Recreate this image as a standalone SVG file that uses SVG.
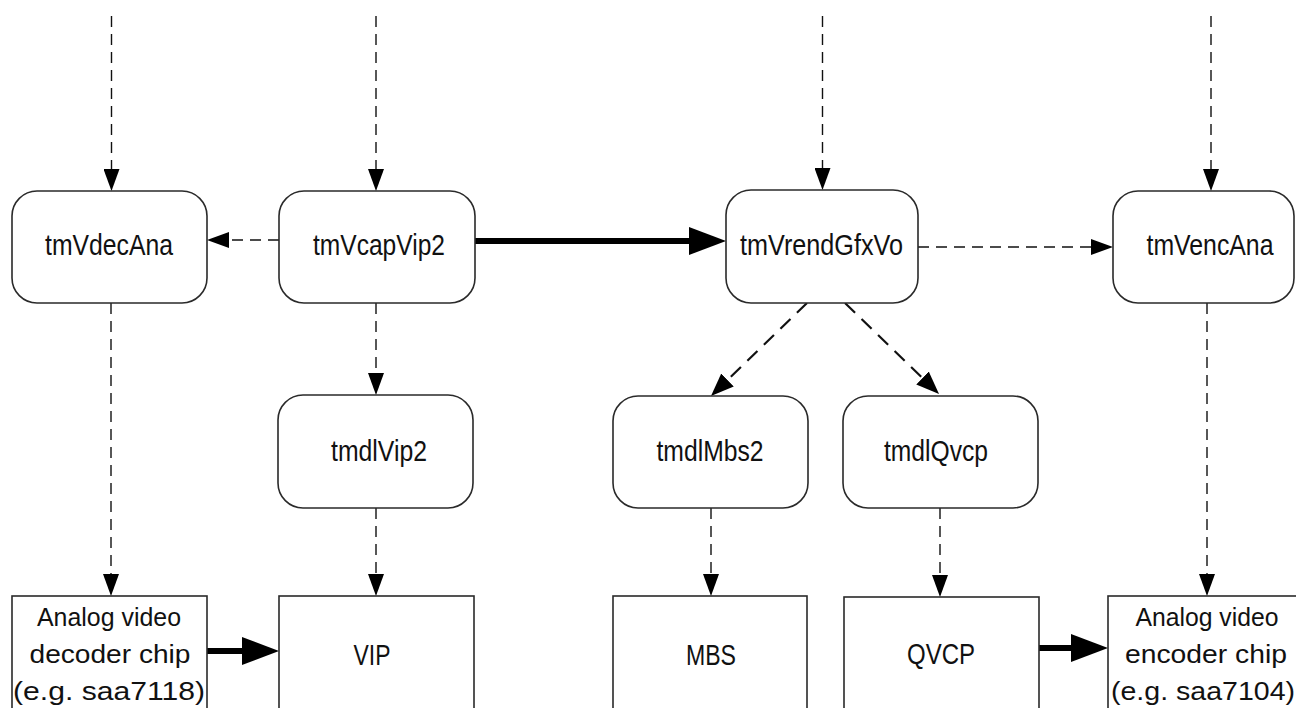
<svg xmlns="http://www.w3.org/2000/svg" width="1296" height="708" viewBox="0 0 1296 708">
<style>
  .node rect { fill: #ffffff; stroke: #2a2a2a; stroke-width: 1.6; }
  .lbl { font-family: "Liberation Sans", Arial, sans-serif; font-size: 30px; fill: #111; text-anchor: middle; }
  .sm { font-family: "Liberation Sans", Arial, sans-serif; font-size: 26px; fill: #111; text-anchor: middle; }
  .dash { stroke: #111; stroke-width: 1.4; stroke-dasharray: 11 7; fill: none; }
  .dashd { stroke: #111; stroke-width: 2.2; stroke-dasharray: 14 9; fill: none; }
  .thick { stroke: #000; stroke-width: 6; fill: none; }
</style>
<defs>
  <marker id="ah" markerUnits="userSpaceOnUse" markerWidth="22" markerHeight="16" refX="0" refY="8" orient="auto">
    <path d="M0,0 L22,8 L0,16 z" fill="#000"/>
  </marker>
  <marker id="ahd" markerUnits="userSpaceOnUse" markerWidth="23" markerHeight="18" refX="0" refY="9" orient="auto">
    <path d="M0,0 L23,9 L0,18 z" fill="#000"/>
  </marker>
  <marker id="aht" markerUnits="userSpaceOnUse" markerWidth="37" markerHeight="28" refX="0" refY="14" orient="auto">
    <path d="M0,0 L37,14 L0,28 z" fill="#000"/>
  </marker>
</defs>

<g id="connectors">
  <!-- incoming from top -->
  <line class="dash" x1="111.5" y1="16" x2="111.5" y2="169" marker-end="url(#ah)"/>
  <line class="dash" x1="376" y1="16" x2="376" y2="169" marker-end="url(#ah)"/>
  <line class="dash" x1="822.5" y1="16" x2="822.5" y2="168" marker-end="url(#ah)"/>
  <line class="dash" x1="1211" y1="16" x2="1211" y2="169" marker-end="url(#ah)"/>
  <!-- row 1 horizontals -->
  <line class="dash" x1="279" y1="240" x2="229" y2="240" marker-end="url(#ah)"/>
  <line class="thick" x1="475" y1="241" x2="689" y2="241" marker-end="url(#aht)"/>
  <line class="dash" x1="918" y1="247" x2="1091" y2="247" marker-end="url(#ah)"/>
  <!-- downward -->
  <line class="dash" x1="111" y1="303" x2="111" y2="574" marker-end="url(#ah)"/>
  <line class="dash" x1="376" y1="303" x2="376" y2="373" marker-end="url(#ah)"/>
  <line class="dash" x1="376" y1="508" x2="376" y2="574" marker-end="url(#ah)"/>
  <line class="dashd" x1="807" y1="303" x2="727.5" y2="380" marker-end="url(#ahd)"/>
  <line class="dashd" x1="845" y1="303" x2="922.5" y2="378" marker-end="url(#ahd)"/>
  <line class="dash" x1="711" y1="508" x2="711" y2="574" marker-end="url(#ah)"/>
  <line class="dash" x1="940" y1="508" x2="940" y2="575" marker-end="url(#ah)"/>
  <line class="dash" x1="1207" y1="303" x2="1207" y2="574" marker-end="url(#ah)"/>
  <!-- bottom thick -->
  <line class="thick" x1="207" y1="651" x2="242" y2="651" marker-end="url(#aht)"/>
  <line class="thick" x1="1039" y1="648" x2="1071" y2="648" marker-end="url(#aht)"/>
</g>

<g id="tmVdecAna" class="node">
  <rect x="12" y="191" width="195" height="112" rx="25" ry="25"/>
  <text class="lbl" x="109" y="255" textLength="128" lengthAdjust="spacingAndGlyphs">tmVdecAna</text>
</g>
<g id="tmVcapVip2" class="node">
  <rect x="279" y="191" width="196" height="112" rx="25" ry="25"/>
  <text class="lbl" x="379" y="255" textLength="132" lengthAdjust="spacingAndGlyphs">tmVcapVip2</text>
</g>
<g id="tmVrendGfxVo" class="node">
  <rect x="726" y="190" width="192" height="113" rx="25" ry="25"/>
  <text class="lbl" x="821.5" y="255" textLength="163" lengthAdjust="spacingAndGlyphs">tmVrendGfxVo</text>
</g>
<g id="tmVencAna" class="node">
  <rect x="1113" y="191" width="181" height="112" rx="25" ry="25"/>
  <text class="lbl" x="1210" y="255" textLength="127" lengthAdjust="spacingAndGlyphs">tmVencAna</text>
</g>
<g id="tmdlVip2" class="node">
  <rect x="278" y="395" width="195" height="113" rx="25" ry="25"/>
  <text class="lbl" x="379" y="461" textLength="96" lengthAdjust="spacingAndGlyphs">tmdlVip2</text>
</g>
<g id="tmdlMbs2" class="node">
  <rect x="613" y="396" width="195" height="112" rx="25" ry="25"/>
  <text class="lbl" x="710" y="461" textLength="107" lengthAdjust="spacingAndGlyphs">tmdlMbs2</text>
</g>
<g id="tmdlQvcp" class="node">
  <rect x="843" y="396" width="195" height="112" rx="25" ry="25"/>
  <text class="lbl" x="936" y="461" textLength="104" lengthAdjust="spacingAndGlyphs">tmdlQvcp</text>
</g>

<g id="decoder-chip" class="node">
  <rect x="12" y="596" width="195" height="140"/>
  <text class="sm" x="109" y="626" textLength="144" lengthAdjust="spacingAndGlyphs">Analog video</text>
  <text class="sm" x="110" y="663" textLength="161" lengthAdjust="spacingAndGlyphs">decoder chip</text>
  <text class="sm" x="109" y="700" textLength="192" lengthAdjust="spacingAndGlyphs">(e.g. saa7118)</text>
</g>
<g id="VIP" class="node">
  <rect x="279" y="596" width="195" height="140"/>
  <text class="lbl" x="372" y="665" textLength="37" lengthAdjust="spacingAndGlyphs">VIP</text>
</g>
<g id="MBS" class="node">
  <rect x="613" y="596" width="194" height="140"/>
  <text class="lbl" x="711" y="665" textLength="50" lengthAdjust="spacingAndGlyphs">MBS</text>
</g>
<g id="QVCP" class="node">
  <rect x="844" y="597" width="195" height="140"/>
  <text class="lbl" x="941" y="664" textLength="68" lengthAdjust="spacingAndGlyphs">QVCP</text>
</g>
<g id="encoder-chip" class="node">
  <rect x="1108" y="596" width="200" height="140"/>
  <text class="sm" x="1207" y="626" textLength="143" lengthAdjust="spacingAndGlyphs">Analog video</text>
  <text class="sm" x="1206" y="663" textLength="162" lengthAdjust="spacingAndGlyphs">encoder chip</text>
  <text class="sm" x="1203" y="700" textLength="184" lengthAdjust="spacingAndGlyphs">(e.g. saa7104)</text>
</g>
</svg>
